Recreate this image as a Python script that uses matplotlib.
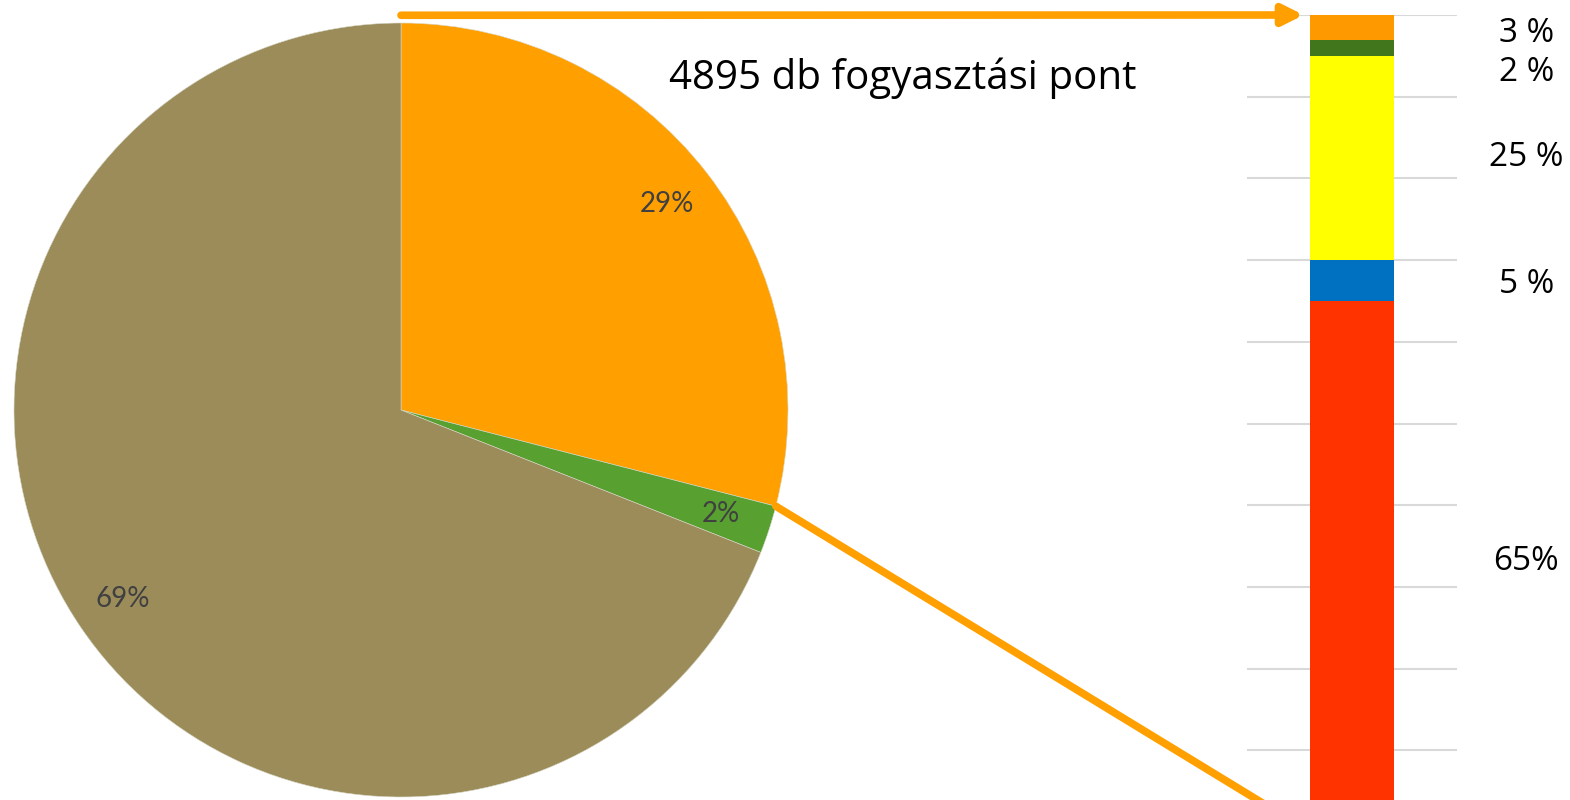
import matplotlib.pyplot as plt
import numpy as np
from matplotlib.patches import ConnectionPatch

# pie data
pie_ertekek = [29, 2, 69]
pie_szinek = ["#ffa000", "#58a030", "#9b8c5a"]

# stacked bar data (from bottom to top)
oszlop_ertekek = [65, 5, 25, 2, 3]
oszlop_szinek = ["#ff3300", "#0070c0", "#ffff00", "#41761d", "#ff9900"]
oszlop_cimkek = ["65%", "5 %", "25 %", "2 %", "3 %"]
cimke_eltolas = [0.6, -0.5, 0.1, -3.0, -0.8]

cim = "4895 db fogyasztási pont"

W, H = 1570, 800
fig = plt.figure(figsize=(W / 100, H / 100), dpi=100)

# pie axes: center (401, 410) px, radius 387 px
cx, cy, r = 401, 410, 387
ax_pie = fig.add_axes([(cx - r) / W, (H - cy - r) / H, 2 * r / W, 2 * r / H])
wedges, _, autotexts = ax_pie.pie(
    pie_ertekek,
    colors=pie_szinek,
    startangle=90,
    counterclock=False,
    autopct=lambda p: f"{p:.0f}%",
    pctdistance=0.87,
    wedgeprops=dict(edgecolor="#d8d8c8", linewidth=0.4),
    textprops=dict(color="#404040", fontsize=20, family="Lato"),
)
ax_pie.set_xlim(-1, 1)
ax_pie.set_ylim(-1, 1)
ax_pie.set_aspect("equal")
ax_pie.axis("off")

# bar axes: x 1247..1457 px, y: 100% at 15 px, 0% at 832 px
y_top, y_zero = 15, 832
ax_bar = fig.add_axes([1247 / W, (H - y_zero) / H, 210 / W, (y_zero - y_top) / H])
ax_bar.set_xlim(0, 1)
ax_bar.set_ylim(0, 100)
alap = 0
kozepek = []
for ertek, szin in zip(oszlop_ertekek, oszlop_szinek):
    ax_bar.bar(0.5, ertek, width=0.4, bottom=alap, color=szin, zorder=3)
    kozepek.append(alap + ertek / 2)
    alap += ertek
for gy in range(10, 101, 10):
    ax_bar.axhline(gy, color="#d9d9d9", linewidth=1.5, zorder=1)
for k, cimke, d in zip(kozepek, oszlop_cimkek, cimke_eltolas):
    ax_bar.text(1.33, k + d, cimke, ha="center", va="center", fontsize=24,
                family="Open Sans", color="black", clip_on=False)
ax_bar.axis("off")

# connector lines
felso = ConnectionPatch(xyA=(0, 1.02), coordsA=ax_pie.transData,
                        xyB=(0.27, 100), coordsB=ax_bar.transData,
                        arrowstyle="-|>", mutation_scale=30, color="#ffa000",
                        linewidth=5.5, capstyle="round")
fig.add_artist(felso)
szog = np.deg2rad(90 - 360 * pie_ertekek[0] / 100)
also = ConnectionPatch(xyA=(np.cos(szog), np.sin(szog)), coordsA=ax_pie.transData,
                       xyB=(0.3, 0), coordsB=ax_bar.transData,
                       color="#ffa000", linewidth=5.5)
fig.add_artist(also)

fig.text(903 / W, 1 - 78 / H, cim, ha="center", va="center", fontsize=29,
         family="Open Sans", color="black")

fig.savefig("out.png", dpi=100)
